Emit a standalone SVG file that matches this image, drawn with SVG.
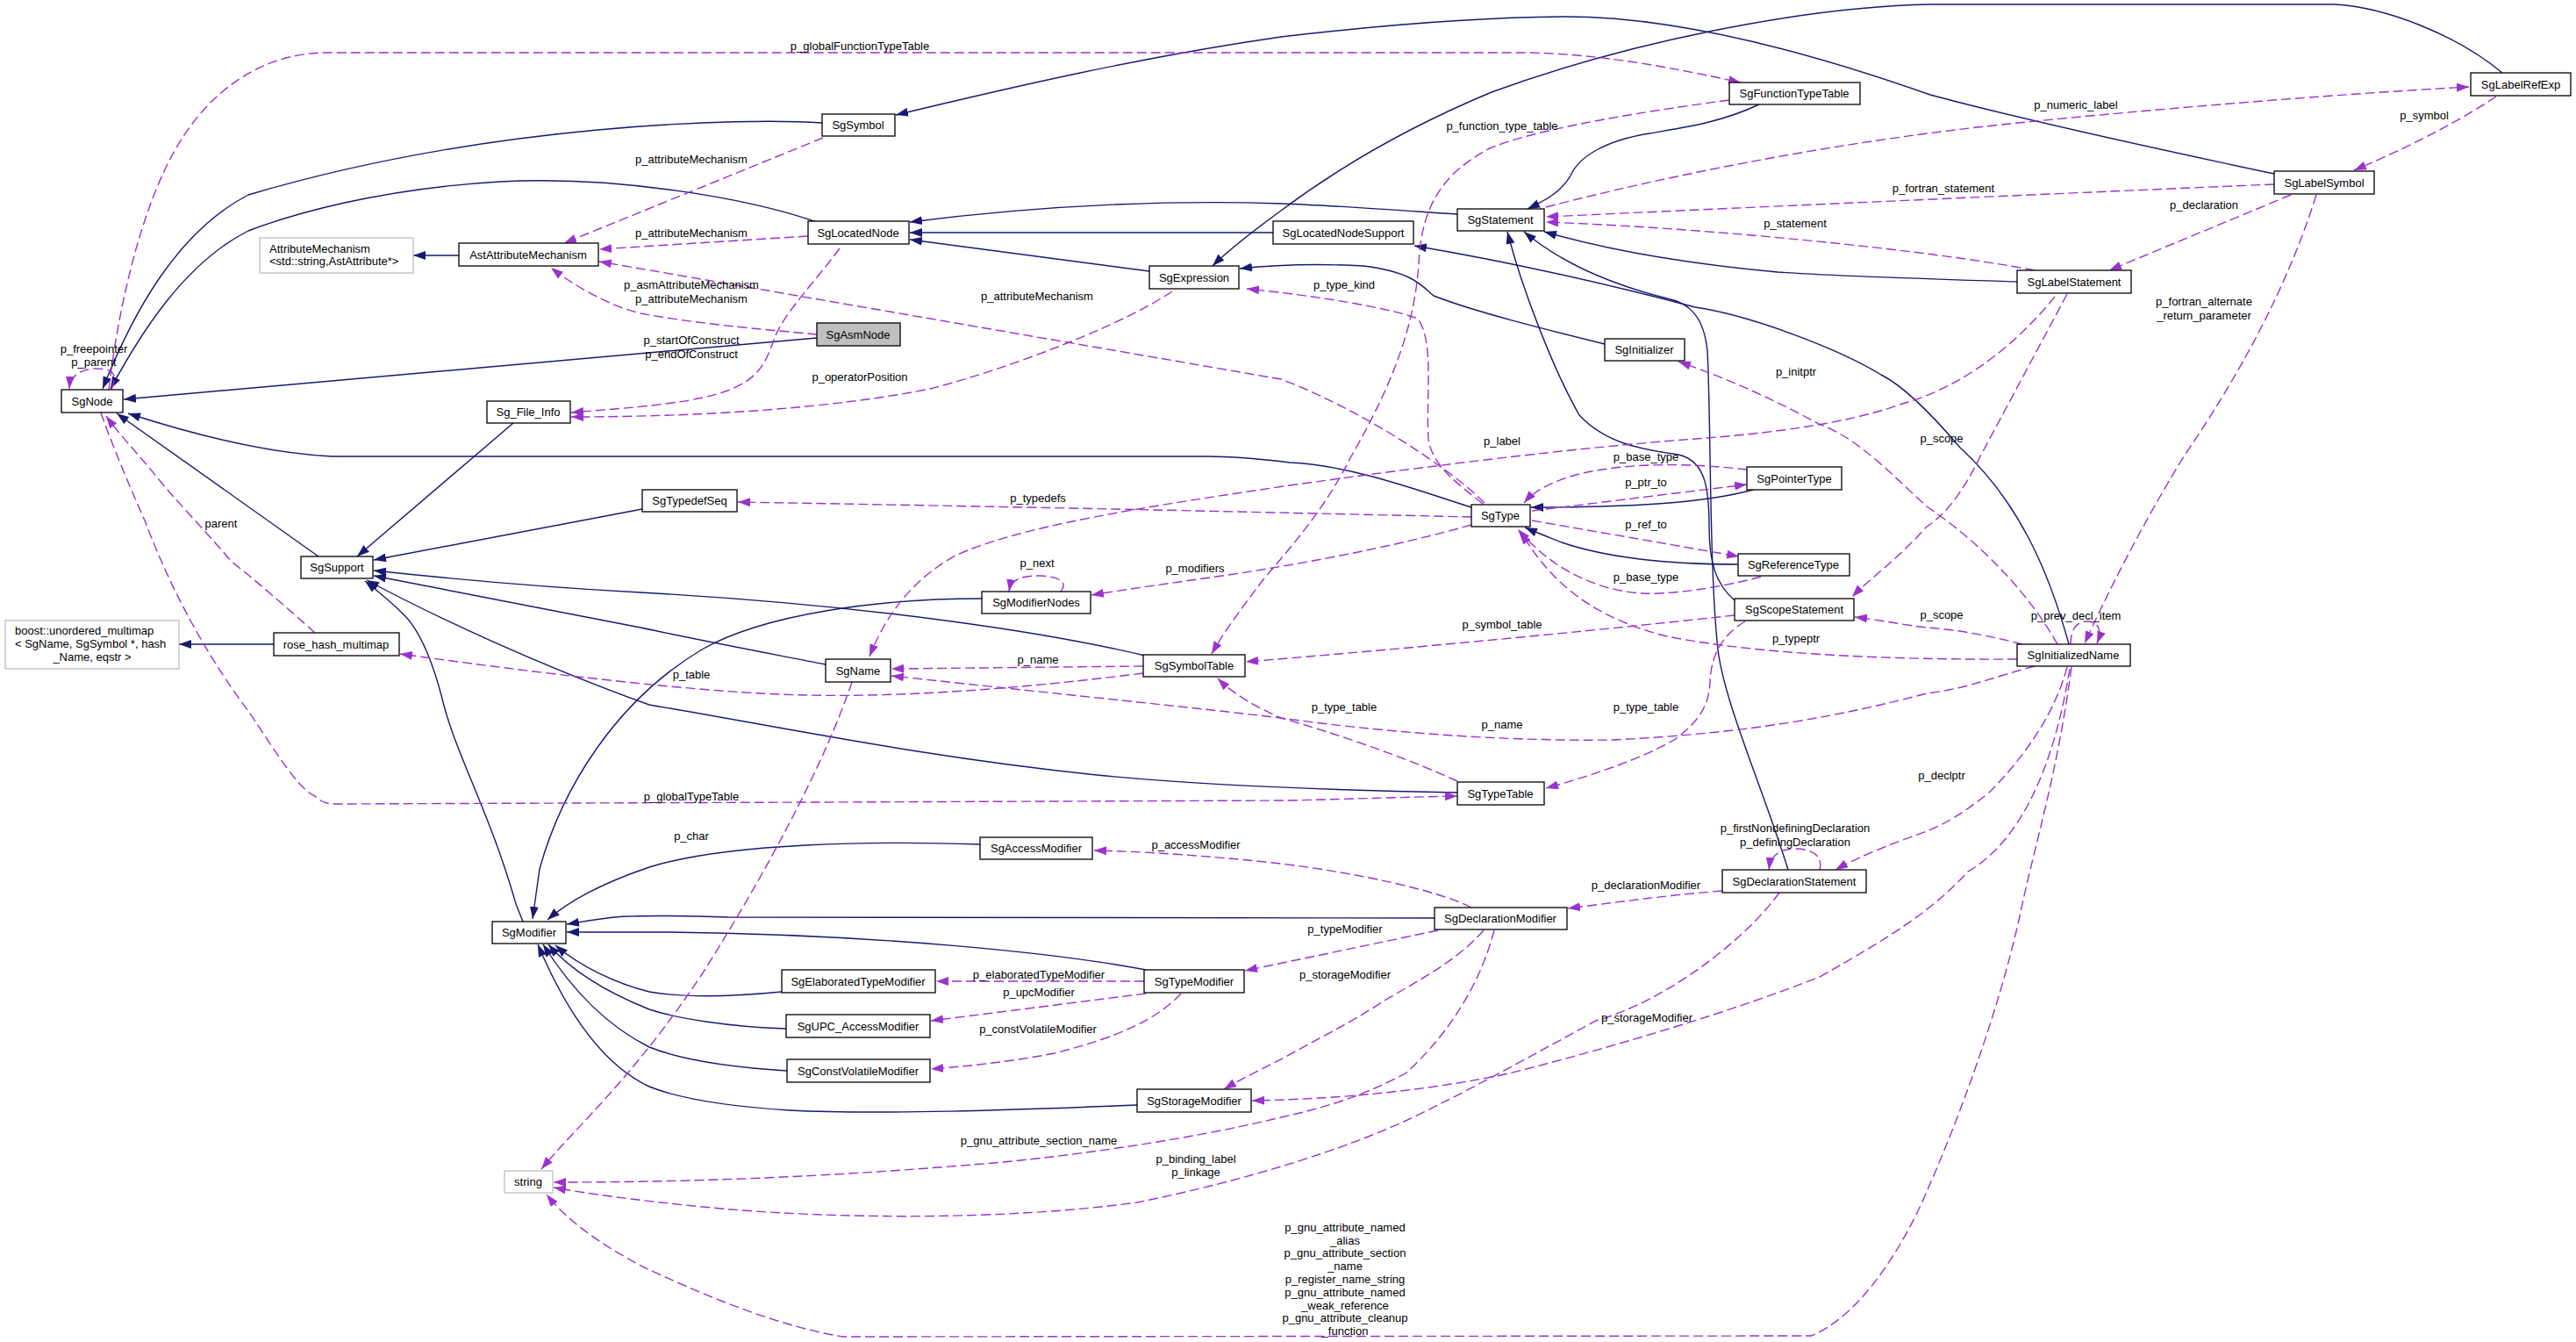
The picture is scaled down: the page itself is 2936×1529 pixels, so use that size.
<svg xmlns="http://www.w3.org/2000/svg" width="2936" height="1529" viewBox="0 0 2936 1529">
<defs>
<style>
.node rect{fill:#ffffff;stroke:#000000;stroke-width:1.3}
.node.ext rect{stroke:#bfbfbf}
.node.focus rect{fill:#bfbfbf}
text{font-family:"Liberation Sans",Arial,sans-serif;font-size:13px;fill:#000000}
.node text{text-anchor:middle}
.lbl text{text-anchor:middle}
.inh{fill:none;stroke:#191970;stroke-width:1.4;marker-end:url(#an)}
.use{fill:none;stroke:#9a32cd;stroke-width:1.4;stroke-dasharray:11,5;marker-end:url(#ap)}
</style>
<marker id="an" viewBox="0 0 14 10" refX="14" refY="5" markerWidth="14" markerHeight="10" markerUnits="userSpaceOnUse" orient="auto"><path d="M0,0 L14,5 L0,10 z" fill="#191970"/></marker>
<marker id="ap" viewBox="0 0 14 10" refX="14" refY="5" markerWidth="14" markerHeight="10" markerUnits="userSpaceOnUse" orient="auto"><path d="M0,0 L14,5 L0,10 z" fill="#9a32cd"/></marker>
</defs>
<rect width="2936" height="1529" fill="#ffffff"/>
<g id="connectors">
<!-- inheritance (navy) -->
<path class="inh" d="M937,140 C850,134 560,140 283,222 C200,265 150,360 117,443"/>
<path class="inh" d="M931,253 C850,225 700,200 570,207 C430,215 330,245 283,263 C210,300 160,380 126,443"/>
<path class="inh" d="M931,385 L141,455"/>
<path class="inh" d="M363,634 L133,471"/>
<path class="inh" d="M1677,578 C1620,560 1540,530 1470,527 C1430,522 1400,520 1376,520 L378,520 C300,516 220,495 146,471"/>
<path class="inh" d="M585,482 L407,634"/>
<path class="inh" d="M732,580 L426,638"/>
<path class="inh" d="M1305,747 C1200,722 1000,690 730,675 C600,668 500,658 426,650"/>
<path class="inh" d="M941,757 C880,745 800,730 730,715 C600,690 500,670 426,656"/>
<path class="inh" d="M1661,903 C1500,900 1350,893 1250,883 C1050,862 900,830 740,803 C620,760 500,705 418,661"/>
<path class="inh" d="M596,1050 L588,1030 C560,930 520,860 505,800 C495,760 480,720 460,700 C445,685 430,673 416,662"/>
<path class="inh" d="M1119,682 C1000,682 870,700 800,740 C700,800 640,900 615,990 L607,1047"/>
<path class="inh" d="M1117,962 C1000,958 830,960 740,988 C690,1005 650,1025 624,1048"/>
<path class="inh" d="M1635,1046 L830,1045 C780,1043 720,1043 700,1045 C680,1047 665,1050 646,1053"/>
<path class="inh" d="M1306,1105 C1200,1085 1000,1065 760,1062 L646,1062"/>
<path class="inh" d="M891,1130 C840,1135 780,1137 740,1130 C700,1120 660,1100 633,1077"/>
<path class="inh" d="M896,1172 C830,1170 770,1160 740,1150 C690,1130 650,1105 625,1076"/>
<path class="inh" d="M897,1220 C820,1215 770,1205 740,1193 C690,1168 650,1125 619,1076"/>
<path class="inh" d="M1296,1259 C1150,1265 1000,1270 900,1265 C820,1260 770,1250 740,1238 C680,1210 640,1140 613,1076"/>
<path class="inh" d="M523,291 L471,291"/>
<path class="inh" d="M312,734 L204,734"/>
<path class="inh" d="M1661,244 C1600,240 1520,234 1460,232 C1350,228 1200,232 1037,253"/>
<path class="inh" d="M1451,265 L1037,265"/>
<path class="inh" d="M1310,309 L1037,273"/>
<path class="inh" d="M2852,83 C2800,40 2720,8 2660,5 L2200,5 C2050,8 1850,50 1700,105 C1580,155 1500,210 1460,240 C1430,262 1400,285 1382,303"/>
<path class="inh" d="M2592,198 C2450,168 2300,135 2200,108 C2050,55 1900,18 1780,19 C1650,20 1520,35 1460,42 C1300,65 1150,100 1021,131"/>
<path class="inh" d="M2005,119 C1960,140 1920,145 1880,152 C1830,160 1800,178 1790,200 C1780,218 1762,228 1741,238"/>
<path class="inh" d="M1977,684 C1955,665 1948,640 1948,600 C1948,560 1945,525 1913,518 C1870,512 1830,505 1800,473 C1770,420 1735,330 1718,264"/>
<path class="inh" d="M2038,991 C2010,900 1965,800 1958,740 C1948,650 1950,470 1946,400 C1942,360 1925,345 1900,340 C1840,325 1780,300 1737,264"/>
<path class="inh" d="M2299,321 C2200,318 2100,315 2026,310 C1950,303 1850,290 1760,264"/>
<path class="inh" d="M2358,734 C2335,650 2300,570 2234,510 C2200,470 2170,440 2144,427 C2100,400 2000,360 1932,350 C1800,315 1700,295 1612,280"/>
<path class="inh" d="M1829,392 C1760,375 1680,355 1634,337 C1620,325 1610,310 1554,303 C1500,300 1450,302 1413,306"/>
<path class="inh" d="M1998,558 C1940,574 1850,578 1745,578"/>
<path class="inh" d="M1981,643 C1900,643 1830,635 1780,618 C1765,612 1752,607 1738,601"/>
<!-- usage (purple dashed) -->
<path class="use" d="M938,157 L643,277"/>
<path class="use" d="M921,269 L683,284"/>
<path class="use" d="M931,381 C880,376 800,370 730,357 C700,350 660,330 628,305"/>
<path class="use" d="M1692,573 C1660,540 1560,470 1460,432 L683,298"/>
<path class="use" d="M957,283 C930,320 890,360 881,390 C870,420 860,440 801,453 C760,462 700,466 651,470"/>
<path class="use" d="M1336,332 C1280,370 1150,420 1060,443 C950,465 800,475 651,475"/>
<path class="use" d="M127,444 C135,425 128,420 110,420 C92,420 80,428 79,443"/>
<path class="use" d="M124,444 C135,350 160,240 200,170 C240,100 300,62 368,60 L1743,60 C1830,62 1910,78 1984,94"/>
<path class="use" d="M359,721 C330,695 290,660 264,640 C230,600 200,570 180,545 C160,520 140,500 121,474"/>
<path class="use" d="M115,470 C125,500 150,560 165,593 C190,660 230,740 283,810 C310,850 340,900 359,907 C365,913 372,916 380,916 L1470,912 C1550,910 1610,908 1661,907"/>
<path class="use" d="M1971,114 C1850,130 1740,150 1696,170 C1640,200 1620,240 1617,300 C1612,380 1580,450 1540,520 C1510,580 1470,625 1440,660 C1410,700 1395,720 1381,745"/>
<path class="use" d="M1762,236 C1900,200 2100,160 2300,140 C2500,120 2700,105 2814,99"/>
<path class="use" d="M2592,210 C2400,218 2000,236 1762,247"/>
<path class="use" d="M2319,308 C2200,285 1950,260 1762,253"/>
<path class="use" d="M2845,110 C2800,140 2740,170 2683,194"/>
<path class="use" d="M2611,222 L2404,308"/>
<path class="use" d="M2640,222 C2600,350 2530,460 2489,520 C2440,600 2400,680 2376,733"/>
<path class="use" d="M2342,338 C2300,390 2240,440 2168,460 C2100,485 2000,495 1932,500 C1800,510 1650,528 1470,553 C1300,578 1160,600 1089,633 C1040,660 1010,700 991,748"/>
<path class="use" d="M2356,335 L2257,520 C2240,555 2220,585 2196,600 C2160,640 2130,660 2111,680"/>
<path class="use" d="M2345,734 C2315,680 2260,620 2196,577 C2160,545 2120,500 2073,483 C2030,460 1980,435 1913,412"/>
<path class="use" d="M2360,734 C2360,716 2368,708 2378,708 C2392,708 2396,718 2390,733"/>
<path class="use" d="M1677,589 C1500,585 1200,578 841,572"/>
<path class="use" d="M1677,598 C1600,620 1500,640 1400,655 C1330,665 1280,672 1244,678"/>
<path class="use" d="M1209,674 C1216,665 1212,657 1185,656 C1160,656 1152,662 1150,674"/>
<path class="use" d="M1991,535 C1930,528 1860,526 1800,540 C1770,548 1750,558 1737,573"/>
<path class="use" d="M1746,582 L1991,552"/>
<path class="use" d="M1746,593 L1982,634"/>
<path class="use" d="M2007,657 C1960,670 1900,678 1870,676 C1820,672 1770,650 1730,603"/>
<path class="use" d="M2299,751 C2150,752 2000,745 1900,725 C1800,700 1760,650 1733,606"/>
<path class="use" d="M1690,574 C1660,550 1632,530 1628,500 C1625,450 1635,390 1616,363 C1580,350 1500,337 1421,329"/>
<path class="use" d="M1303,759 L1016,762"/>
<path class="use" d="M1303,767 C1200,780 1050,795 919,792 C800,790 600,765 456,745"/>
<path class="use" d="M1977,701 C1850,715 1650,735 1420,754"/>
<path class="use" d="M1661,890 C1600,862 1520,835 1460,818 C1430,805 1405,790 1388,773"/>
<path class="use" d="M1989,708 C1960,725 1950,750 1949,777 C1948,800 1940,820 1908,843 C1870,865 1810,885 1762,898"/>
<path class="use" d="M2319,759 C2270,772 2240,785 2196,790 C2100,815 2000,835 1838,843 C1700,845 1560,832 1460,818 C1350,805 1200,790 1016,770"/>
<path class="use" d="M2305,734 C2270,725 2230,717 2196,715 C2170,712 2140,706 2114,703"/>
<path class="use" d="M2356,760 C2340,820 2300,870 2267,903 C2240,925 2215,940 2196,947 C2160,960 2120,975 2092,991"/>
<path class="use" d="M2074,991 C2078,975 2065,967 2046,967 C2028,967 2018,975 2016,991"/>
<path class="use" d="M1963,1015 C1900,1020 1850,1027 1787,1035"/>
<path class="use" d="M1677,1034 C1640,1015 1550,995 1460,984 C1380,975 1300,970 1247,969"/>
<path class="use" d="M1639,1060 L1419,1106"/>
<path class="use" d="M1691,1060 C1660,1095 1620,1115 1578,1140 C1540,1165 1490,1190 1460,1207 C1430,1222 1410,1232 1395,1241"/>
<path class="use" d="M1703,1060 C1690,1110 1660,1170 1602,1223 C1560,1245 1520,1260 1460,1273 C1350,1300 1200,1320 1108,1327 C950,1340 800,1347 631,1347"/>
<path class="use" d="M2028,1017 C1990,1070 1900,1140 1819,1163 C1750,1200 1680,1240 1602,1277 C1530,1310 1420,1345 1296,1370 C1150,1390 950,1390 801,1375 C720,1367 670,1360 631,1353"/>
<path class="use" d="M2359,762 C2340,880 2300,960 2243,993 C2200,1040 2150,1070 2074,1113 C1980,1150 1850,1190 1720,1223 C1640,1240 1540,1252 1427,1254"/>
<path class="use" d="M2361,760 C2345,880 2320,960 2305,1030 C2280,1150 2230,1280 2198,1353 C2170,1420 2120,1500 2064,1522 L961,1523 C880,1510 790,1470 730,1442 C690,1420 650,1395 623,1361"/>
<path class="use" d="M1304,1118 L1067,1118"/>
<path class="use" d="M1306,1132 L1061,1163"/>
<path class="use" d="M1346,1132 C1320,1160 1280,1180 1202,1200 C1150,1210 1100,1215 1061,1218"/>
<path class="use" d="M971,777 C940,870 870,1000 800,1110 C720,1230 660,1280 617,1332"/>
</g>
<g id="edge-labels" class="lbl">
<text x="980" y="57">p_globalFunctionTypeTable</text>
<text x="788" y="186">p_attributeMechanism</text>
<text x="788" y="270">p_attributeMechanism</text>
<text x="788" y="329">p_asmAttributeMechanism</text>
<text x="788" y="345">p_attributeMechanism</text>
<text x="788" y="392">p_startOfConstruct</text>
<text x="788" y="408">p_endOfConstruct</text>
<text x="980" y="434">p_operatorPosition</text>
<text x="1182" y="342">p_attributeMechanism</text>
<text x="107" y="402">p_freepointer</text>
<text x="107" y="417">p_parent</text>
<text x="252" y="601">parent</text>
<text x="1712" y="148">p_function_type_table</text>
<text x="1532" y="329">p_type_kind</text>
<text x="2046" y="259">p_statement</text>
<text x="2215" y="219">p_fortran_statement</text>
<text x="2047" y="428">p_initptr</text>
<text x="1712" y="507">p_label</text>
<text x="2366" y="124">p_numeric_label</text>
<text x="2763" y="136">p_symbol</text>
<text x="2512" y="238">p_declaration</text>
<text x="2512" y="348">p_fortran_alternate</text>
<text x="2512" y="364">_return_parameter</text>
<text x="2213" y="504">p_scope</text>
<text x="1183" y="572">p_typedefs</text>
<text x="1182" y="646">p_next</text>
<text x="1362" y="652">p_modifiers</text>
<text x="1183" y="756">p_name</text>
<text x="788" y="773">p_table</text>
<text x="788" y="912">p_globalTypeTable</text>
<text x="788" y="957">p_char</text>
<text x="1363" y="967">p_accessModifier</text>
<text x="1876" y="525">p_base_type</text>
<text x="1876" y="554">p_ptr_to</text>
<text x="1876" y="602">p_ref_to</text>
<text x="1876" y="662">p_base_type</text>
<text x="1712" y="716">p_symbol_table</text>
<text x="2047" y="732">p_typeptr</text>
<text x="1532" y="810">p_type_table</text>
<text x="1876" y="810">p_type_table</text>
<text x="1712" y="830">p_name</text>
<text x="2046" y="948">p_firstNondefiningDeclaration</text>
<text x="2046" y="964">p_definingDeclaration</text>
<text x="1876" y="1013">p_declarationModifier</text>
<text x="2213" y="705">p_scope</text>
<text x="2366" y="706">p_prev_decl_item</text>
<text x="2213" y="888">p_declptr</text>
<text x="1184" y="1115">p_elaboratedTypeModifier</text>
<text x="1184" y="1135">p_upcModifier</text>
<text x="1183" y="1177">p_constVolatileModifier</text>
<text x="1184" y="1304">p_gnu_attribute_section_name</text>
<text x="1363" y="1325">p_binding_label</text>
<text x="1363" y="1340">p_linkage</text>
<text x="1533" y="1063">p_typeModifier</text>
<text x="1533" y="1115">p_storageModifier</text>
<text x="1877" y="1164">p_storageModifier</text>
<text x="1533" y="1403">p_gnu_attribute_named</text>
<text x="1533" y="1418">_alias</text>
<text x="1533" y="1432">p_gnu_attribute_section</text>
<text x="1533" y="1447">_name</text>
<text x="1533" y="1462">p_register_name_string</text>
<text x="1533" y="1477">p_gnu_attribute_named</text>
<text x="1533" y="1492">_weak_reference</text>
<text x="1533" y="1506">p_gnu_attribute_cleanup</text>
<text x="1533" y="1521">_function</text>
</g>
<g id="SgNode" class="node"><rect x="70" y="444" width="70" height="26"/><text x="105" y="462">SgNode</text></g>
<g id="AttributeMechanism" class="node ext"><rect x="296" y="271" width="175" height="40"/><text x="307" y="288" style="text-anchor:start">AttributeMechanism</text><text x="307" y="302" style="text-anchor:start">&lt;std::string,AstAttribute*&gt;</text></g>
<g id="AstAttributeMechanism" class="node"><rect x="523" y="277" width="159" height="26"/><text x="602" y="295">AstAttributeMechanism</text></g>
<g id="Sg_File_Info" class="node"><rect x="555" y="457" width="95" height="25"/><text x="602" y="474">Sg_File_Info</text></g>
<g id="SgSupport" class="node"><rect x="343" y="634" width="82" height="25"/><text x="384" y="651">SgSupport</text></g>
<g id="boost_unordered_multimap" class="node ext"><rect x="6" y="707" width="198" height="55"/><text x="17" y="723" style="text-anchor:start">boost::unordered_multimap</text><text x="17" y="738" style="text-anchor:start">&lt; SgName, SgSymbol *, hash</text><text x="105" y="753">_Name, eqstr &gt;</text></g>
<g id="rose_hash_multimap" class="node"><rect x="312" y="721" width="143" height="26"/><text x="383" y="739">rose_hash_multimap</text></g>
<g id="SgSymbol" class="node"><rect x="937" y="130" width="83" height="25"/><text x="978" y="147">SgSymbol</text></g>
<g id="SgLocatedNode" class="node"><rect x="921" y="252" width="115" height="26"/><text x="978" y="270">SgLocatedNode</text></g>
<g id="SgAsmNode" class="node focus"><rect x="931" y="368" width="95" height="26"/><text x="978" y="386">SgAsmNode</text></g>
<g id="SgExpression" class="node"><rect x="1310" y="303" width="102" height="26"/><text x="1361" y="321">SgExpression</text></g>
<g id="SgTypedefSeq" class="node"><rect x="732" y="558" width="108" height="25"/><text x="786" y="575">SgTypedefSeq</text></g>
<g id="SgModifierNodes" class="node"><rect x="1119" y="674" width="124" height="25"/><text x="1181" y="691">SgModifierNodes</text></g>
<g id="SgName" class="node"><rect x="941" y="751" width="74" height="26"/><text x="978" y="769">SgName</text></g>
<g id="SgSymbolTable" class="node"><rect x="1303" y="746" width="116" height="25"/><text x="1361" y="763">SgSymbolTable</text></g>
<g id="SgAccessModifier" class="node"><rect x="1117" y="954" width="128" height="25"/><text x="1181" y="971">SgAccessModifier</text></g>
<g id="SgModifier" class="node"><rect x="561" y="1050" width="84" height="25"/><text x="603" y="1067">SgModifier</text></g>
<g id="string" class="node ext"><rect x="575" y="1334" width="55" height="25"/><text x="602" y="1351">string</text></g>
<g id="SgElaboratedTypeModifier" class="node"><rect x="891" y="1105" width="175" height="26"/><text x="978" y="1123">SgElaboratedTypeModifier</text></g>
<g id="SgUPC_AccessModifier" class="node"><rect x="896" y="1156" width="164" height="26"/><text x="978" y="1174">SgUPC_AccessModifier</text></g>
<g id="SgConstVolatileModifier" class="node"><rect x="897" y="1207" width="163" height="26"/><text x="978" y="1225">SgConstVolatileModifier</text></g>
<g id="SgTypeModifier" class="node"><rect x="1304" y="1105" width="114" height="26"/><text x="1361" y="1123">SgTypeModifier</text></g>
<g id="SgStorageModifier" class="node"><rect x="1296" y="1241" width="130" height="26"/><text x="1361" y="1259">SgStorageModifier</text></g>
<g id="SgDeclarationModifier" class="node"><rect x="1635" y="1034" width="151" height="25"/><text x="1710" y="1051">SgDeclarationModifier</text></g>
<g id="SgFunctionTypeTable" class="node"><rect x="1971" y="94" width="149" height="25"/><text x="2045" y="111">SgFunctionTypeTable</text></g>
<g id="SgStatement" class="node"><rect x="1661" y="238" width="99" height="25"/><text x="1710" y="255">SgStatement</text></g>
<g id="SgLocatedNodeSupport" class="node"><rect x="1451" y="252" width="160" height="26"/><text x="1531" y="270">SgLocatedNodeSupport</text></g>
<g id="SgInitializer" class="node"><rect x="1829" y="386" width="91" height="25"/><text x="1874" y="403">SgInitializer</text></g>
<g id="SgType" class="node"><rect x="1677" y="575" width="67" height="25"/><text x="1710" y="592">SgType</text></g>
<g id="SgPointerType" class="node"><rect x="1991" y="532" width="108" height="26"/><text x="2045" y="550">SgPointerType</text></g>
<g id="SgReferenceType" class="node"><rect x="1981" y="631" width="127" height="25"/><text x="2044" y="648">SgReferenceType</text></g>
<g id="SgScopeStatement" class="node"><rect x="1977" y="682" width="136" height="25"/><text x="2045" y="699">SgScopeStatement</text></g>
<g id="SgTypeTable" class="node"><rect x="1661" y="891" width="99" height="26"/><text x="1710" y="909">SgTypeTable</text></g>
<g id="SgDeclarationStatement" class="node"><rect x="1963" y="991" width="164" height="26"/><text x="2045" y="1009">SgDeclarationStatement</text></g>
<g id="SgLabelRefExp" class="node"><rect x="2816" y="83" width="114" height="26"/><text x="2873" y="101">SgLabelRefExp</text></g>
<g id="SgLabelSymbol" class="node"><rect x="2592" y="195" width="114" height="26"/><text x="2649" y="213">SgLabelSymbol</text></g>
<g id="SgLabelStatement" class="node"><rect x="2299" y="308" width="130" height="26"/><text x="2364" y="326">SgLabelStatement</text></g>
<g id="SgInitializedName" class="node"><rect x="2299" y="734" width="129" height="25"/><text x="2363" y="751">SgInitializedName</text></g>
</svg>
